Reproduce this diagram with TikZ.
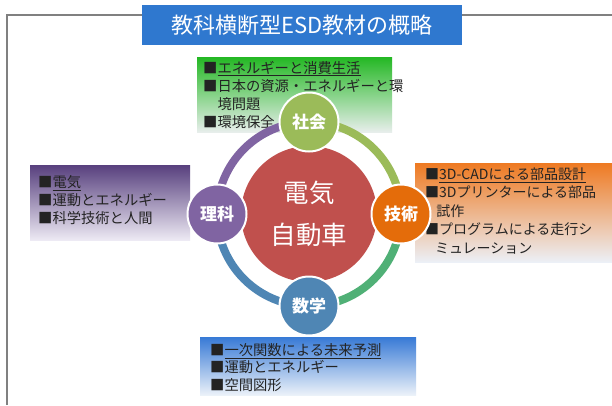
\documentclass[tikz,border=0pt]{standalone}
\usepackage{fontspec}
\setmainfont{Noto Sans CJK JP}
\definecolor{titleblue}{RGB}{47,120,207}
\definecolor{framegray}{RGB}{128,128,128}
\definecolor{txt}{RGB}{35,35,35}
\definecolor{cred}{RGB}{192,80,77}
\definecolor{cgreen}{RGB}{155,187,89}
\definecolor{corange}{RGB}{228,108,10}
\definecolor{cblue}{RGB}{79,134,180}
\definecolor{cpurple}{RGB}{128,100,162}
\definecolor{agreen}{RGB}{80,176,118}
\tikzset{
  box/.style={anchor=north west, inner sep=0pt, draw=none},
  boxtext/.style={anchor=west, inner sep=0pt, align=left, text=txt,
    font=\fontsize{14.3}{18}\selectfont},
  sat/.style={circle, minimum size=59pt, inner sep=0pt, draw=white, line width=2pt,
    text=white, font=\fontsize{17}{20}\selectfont\bfseries},
  ring/.style={line width=8pt},
}
\begin{document}
\begin{tikzpicture}[x=1pt,y=-1pt]
\useasboundingbox (0,0) rectangle (612,405);
\fill[white] (0,0) rectangle (612,405);
% frame
\draw[framegray, line width=1.5pt] (7,405) -- (7,15) -- (612,15);
% title
\node[fill=titleblue, minimum width=320pt, minimum height=40pt, inner sep=0pt,
  text=white, font=\fontsize{22}{26}\selectfont] (title) at (302,25) {教科横断型ESD教材の概略};
% boxes
\node[box, minimum width=195pt, minimum height=75pt,
  top color={rgb,255:red,36;green,184;blue,36}, bottom color={rgb,255:red,232;green,238;blue,236}]
  (gbox) at (197,57) {};
\node[box, minimum width=160pt, minimum height=75pt,
  top color={rgb,255:red,88;green,64;blue,126}, bottom color={rgb,255:red,237;green,234;blue,244}]
  (pbox) at (30,165) {};
\node[box, minimum width=197pt, minimum height=99pt,
  top color={rgb,255:red,238;green,122;blue,34}, bottom color={rgb,255:red,236;green,240;blue,247}]
  (obox) at (415,163) {};
\node[box, minimum width=216pt, minimum height=58pt,
  top color={rgb,255:red,56;green,122;blue,214}, bottom color={rgb,255:red,236;green,242;blue,249}]
  (bbox) at (200,337) {};
% box texts
\node[boxtext] (gtext) at (203,94.5) {■\underline{エネルギーと消費生活}\\■日本の資源・エネルギーと環\\\hspace*{1em}境問題\\■環境保全};
\node[boxtext] (ptext) at (38,200) {■\underline{電気}\\■運動とエネルギー\\■科学技術と人間};
\node[boxtext, font=\fontsize{14}{18.5}\selectfont] (otext) at (425,211) {■\underline{3D-CADによる部品設計}\\■3Dプリンターによる部品\\\hspace*{0.8em}試作\\■プログラムによる走行シ\\\hspace*{0.7em}ミュレーション};
\node[boxtext, font=\fontsize{14.3}{17.5}\selectfont] (btext) at (210,367.5) {■\underline{一次関数による未来予測}\\■運動とエネルギー\\■空間図形};
% center
\coordinate (c) at (309,214);
\draw[ring, cgreen] (c) ++(270:92) arc[start angle=270, end angle=360, radius=92];
\draw[ring, agreen] (c) ++(0:92) arc[start angle=0, end angle=90, radius=92];
\draw[ring, cblue] (c) ++(90:92) arc[start angle=90, end angle=180, radius=92];
\draw[ring, cpurple] (c) ++(180:92) arc[start angle=180, end angle=270, radius=92];
\node[circle, fill=cred, minimum size=136pt, inner sep=0pt, text=white, align=center,
  font=\fontsize{25.5}{42}\selectfont] (ev) at (c) {電気\\自動車};
\node[sat, fill=cgreen] (shakai) at (309,122) {社会};
\node[sat, fill=corange] (gijutsu) at (401,214) {技術};
\node[sat, fill=cblue] (sugaku) at (309,306) {数学};
\node[sat, fill=cpurple] (rika) at (217,214) {理科};
\end{tikzpicture}
\end{document}
